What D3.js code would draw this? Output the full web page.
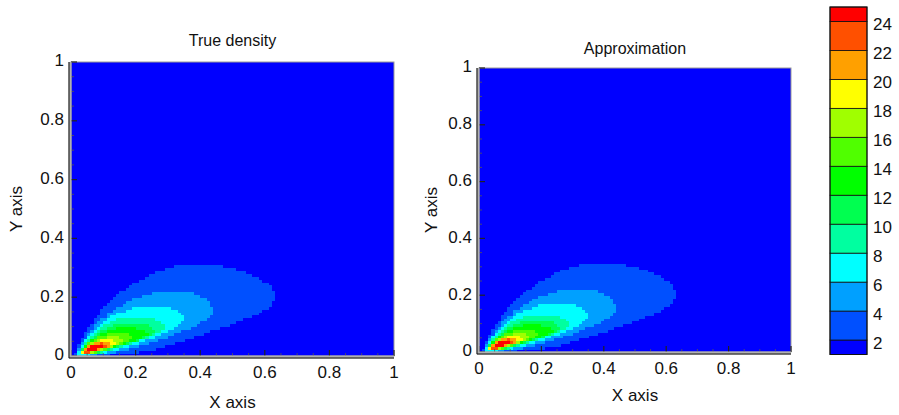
<!DOCTYPE html>
<html>
<head>
<meta charset="utf-8">
<script src="https://cdn.jsdelivr.net/npm/d3@7"></script>
<style>
  html, body { margin: 0; padding: 0; background: #fff; }
  svg { display: block; font-family: "Liberation Sans", Arial, Helvetica, sans-serif; }
</style>
</head>
<body>
<svg id="chart" width="899" height="415"></svg>
<script>
// Contour levels (lower bound of each flood band) and band colours.
const levels = [1, 2, 4, 6, 8, 10, 12, 14, 16, 18, 20, 22, 24];
const levelTop = 25;
const bandColors = ["#0000ff", "#0050ff", "#00a0ff", "#00ffff", "#00ffa0", "#00ff50",
                    "#00ff00", "#50ff00", "#a0ff00", "#ffff00", "#ffa000", "#ff5000", "#ff0000"];
const legendTicks = [2, 4, 6, 8, 10, 12, 14, 16, 18, 20, 22, 24];
const axisTicks = [0, 0.2, 0.4, 0.6, 0.8, 1];
const minorTicks = d3.range(0, 1.0001, 0.05);

// Outline of the region at or above each level (levels 2..24), in (x, y) data units.
const outline2 = [[0.012,0.003],[0.025,0.04],[0.05,0.09],[0.09,0.15],[0.14,0.205],[0.20,0.25],[0.27,0.29],
  [0.34,0.312],[0.42,0.315],[0.50,0.30],[0.57,0.272],[0.615,0.24],[0.63,0.205],[0.615,0.17],[0.57,0.14],
  [0.50,0.11],[0.42,0.08],[0.34,0.05],[0.26,0.025],[0.18,0.01],[0.08,0.002]];
const outline4 = [[0.015,0.004],[0.035,0.05],[0.07,0.10],[0.12,0.15],[0.18,0.19],[0.25,0.215],[0.32,0.225],
  [0.38,0.215],[0.425,0.19],[0.445,0.16],[0.43,0.13],[0.38,0.10],[0.31,0.07],[0.23,0.04],[0.15,0.017],[0.07,0.003]];
const outline6 = [[0.018,0.005],[0.04,0.05],[0.08,0.10],[0.13,0.14],[0.19,0.165],[0.25,0.175],[0.30,0.168],
  [0.34,0.148],[0.355,0.125],[0.33,0.10],[0.27,0.07],[0.20,0.042],[0.13,0.018],[0.06,0.004]];
const outline8 = [[0.02,0.006],[0.045,0.05],[0.08,0.09],[0.13,0.122],[0.19,0.135],[0.245,0.13],[0.29,0.11],
  [0.295,0.09],[0.25,0.068],[0.18,0.042],[0.11,0.018],[0.05,0.005]];
const outline10 = [[0.022,0.007],[0.05,0.05],[0.09,0.085],[0.14,0.108],[0.19,0.115],[0.24,0.105],[0.265,0.088],
  [0.24,0.068],[0.18,0.045],[0.11,0.02],[0.05,0.006]];
const outline12 = [[0.025,0.008],[0.05,0.045],[0.09,0.077],[0.14,0.095],[0.19,0.098],[0.23,0.087],[0.24,0.072],
  [0.20,0.055],[0.14,0.034],[0.08,0.014],[0.04,0.006]];
const outline14 = [[0.028,0.009],[0.05,0.042],[0.085,0.066],[0.13,0.08],[0.17,0.08],[0.195,0.068],[0.18,0.052],
  [0.13,0.034],[0.08,0.016],[0.04,0.007]];
const outline16 = [[0.03,0.01],[0.05,0.038],[0.08,0.057],[0.12,0.068],[0.155,0.065],[0.165,0.053],[0.14,0.04],
  [0.10,0.025],[0.06,0.012],[0.04,0.008]];
const outline18 = [[0.032,0.011],[0.05,0.036],[0.08,0.052],[0.11,0.058],[0.135,0.054],[0.14,0.045],[0.115,0.033],
  [0.08,0.02],[0.05,0.01]];
const outline20 = [[0.034,0.012],[0.05,0.033],[0.075,0.047],[0.10,0.052],[0.125,0.048],[0.125,0.038],[0.10,0.028],
  [0.07,0.018],[0.045,0.011]];
const outline22 = [[0.036,0.014],[0.05,0.031],[0.07,0.042],[0.095,0.046],[0.11,0.042],[0.105,0.033],[0.085,0.025],
  [0.06,0.016],[0.045,0.012]];
const outline24 = [[0.04,0.016],[0.05,0.03],[0.07,0.038],[0.09,0.04],[0.097,0.035],[0.085,0.027],[0.065,0.02],[0.05,0.016]];

const trueOutlines = [outline2, outline4, outline6, outline8, outline10, outline12,
                      outline14, outline16, outline18, outline20, outline22, outline24];
const approxOutlines = trueOutlines;

const gridN = 100;

const svg = d3.select("#chart");

const panels = [
  { title: "True density", outlines: trueOutlines,
    left: 71, right: 394, top: 62, bottom: 356, titleY: 46, xTitleY: 408, yTitleX: 22 },
  { title: "Approximation", outlines: approxOutlines,
    left: 479, right: 791, top: 68, bottom: 352, titleY: 54, xTitleY: 401, yTitleX: 437 }
];

// Band index of a point: highest level whose outline contains it.
function bandAt(outlines, p) {
  let band = 0;
  outlines.forEach((poly, i) => { if (d3.polygonContains(poly, p)) band = i + 1; });
  return band;
}

panels.forEach((P, pi) => {
  const x = d3.scaleLinear().domain([0, 1]).range([P.left, P.right]);
  const y = d3.scaleLinear().domain([0, 1]).range([P.bottom, P.top]);
  const g = svg.append("g");
  const clipId = "clip" + pi;
  g.append("clipPath").attr("id", clipId).append("rect")
    .attr("x", P.left).attr("y", P.top)
    .attr("width", P.right - P.left).attr("height", P.bottom - P.top);

  // Background band (values below 2)
  g.append("rect")
    .attr("x", P.left).attr("y", P.top)
    .attr("width", P.right - P.left).attr("height", P.bottom - P.top)
    .attr("fill", bandColors[0]);

  // Flood-filled cells
  const cells = [];
  const step = 1 / gridN;
  for (let i = 0; i < gridN; i++) {
    for (let j = 0; j < gridN; j++) {
      const cx = (i + 0.5) * step, cy = (j + 0.5) * step;
      const b = bandAt(P.outlines, [cx, cy]);
      if (b > 0) cells.push({ x0: i * step, y0: j * step, band: b });
    }
  }
  g.append("g").attr("clip-path", `url(#${clipId})`)
    .attr("shape-rendering", "crispEdges")
    .selectAll("rect").data(cells).join("rect")
    .attr("x", d => x(d.x0))
    .attr("y", d => y(d.y0 + step))
    .attr("width", d => x(d.x0 + step) - x(d.x0) + 0.6)
    .attr("height", d => y(d.y0) - y(d.y0 + step) + 0.6)
    .attr("fill", d => bandColors[d.band]);

  // Frame
  g.append("rect")
    .attr("x", P.left).attr("y", P.top)
    .attr("width", P.right - P.left).attr("height", P.bottom - P.top)
    .attr("fill", "none").attr("stroke", "#9a9a9a").attr("stroke-width", 1);

  // Inward ticks
  const tg = g.append("g");
  minorTicks.forEach(v => {
    const major = axisTicks.some(t => Math.abs(t - v) < 1e-6);
    const len = major ? 6 : 3;
    tg.append("line").attr("x1", x(v)).attr("x2", x(v))
      .attr("y1", P.bottom).attr("y2", P.bottom - len)
      .attr("stroke-width", major ? 1.2 : 0.8).attr("stroke", major ? "#222" : "#555");
    tg.append("line").attr("y1", y(v)).attr("y2", y(v))
      .attr("x1", P.left).attr("x2", P.left + len)
      .attr("stroke-width", major ? 1.2 : 0.8).attr("stroke", major ? "#222" : "#555");
  });

  // Axis lines (left and bottom)
  g.append("path")
    .attr("d", `M${P.left - 1},${P.top}V${P.bottom + 1}H${P.right}`)
    .attr("fill", "none").attr("stroke", "#b0b0b0").attr("stroke-width", 3);
  g.append("path")
    .attr("d", `M${P.left - 2},${P.top}V${P.bottom + 2}H${P.right}`)
    .attr("fill", "none").attr("stroke", "#111").attr("stroke-width", 1);

  // Tick labels
  g.selectAll(".xl").data(axisTicks).join("text")
    .attr("x", d => x(d)).attr("y", P.bottom + 18)
    .attr("text-anchor", "middle").attr("dominant-baseline", "middle")
    .attr("font-size", 17).attr("fill", "#111")
    .text(d => d3.format("~g")(d));
  g.selectAll(".yl").data(axisTicks).join("text")
    .attr("x", P.left - 7).attr("y", d => y(d))
    .attr("text-anchor", "end").attr("dominant-baseline", "middle")
    .attr("font-size", 17).attr("fill", "#111")
    .text(d => d3.format("~g")(d));

  // Titles
  g.append("text").attr("x", (P.left + P.right) / 2).attr("y", P.titleY)
    .attr("text-anchor", "middle").attr("font-size", 16).attr("fill", "#111").text(P.title);
  g.append("text").attr("x", (P.left + P.right) / 2).attr("y", P.xTitleY)
    .attr("text-anchor", "middle").attr("font-size", 17).attr("fill", "#111").text("X axis");
  g.append("text")
    .attr("transform", `translate(${P.yTitleX},${(P.top + P.bottom) / 2}) rotate(-90)`)
    .attr("text-anchor", "middle").attr("font-size", 17).attr("fill", "#111").text("Y axis");
});

// Colour legend
const legendY = d3.scaleLinear().domain([levels[0], levelTop]).range([354.5, 7]);
const legendX0 = 830, legendX1 = 867;
const lg = svg.append("g");
levels.forEach((lv, i) => {
  const hi = i < levels.length - 1 ? levels[i + 1] : levelTop;
  lg.append("rect")
    .attr("x", legendX0).attr("y", legendY(hi))
    .attr("width", legendX1 - legendX0).attr("height", legendY(lv) - legendY(hi))
    .attr("fill", bandColors[i]).attr("stroke", "#111").attr("stroke-width", 0.8);
});
lg.append("rect")
  .attr("x", legendX0).attr("y", legendY(levelTop))
  .attr("width", legendX1 - legendX0).attr("height", legendY(levels[0]) - legendY(levelTop))
  .attr("fill", "none").attr("stroke", "#111").attr("stroke-width", 1);
lg.selectAll("text").data(legendTicks).join("text")
  .attr("x", 873).attr("y", d => legendY(d) + 4)
  .attr("dominant-baseline", "middle").attr("font-size", 17).attr("fill", "#111")
  .text(d => d);
</script>
</body>
</html>
